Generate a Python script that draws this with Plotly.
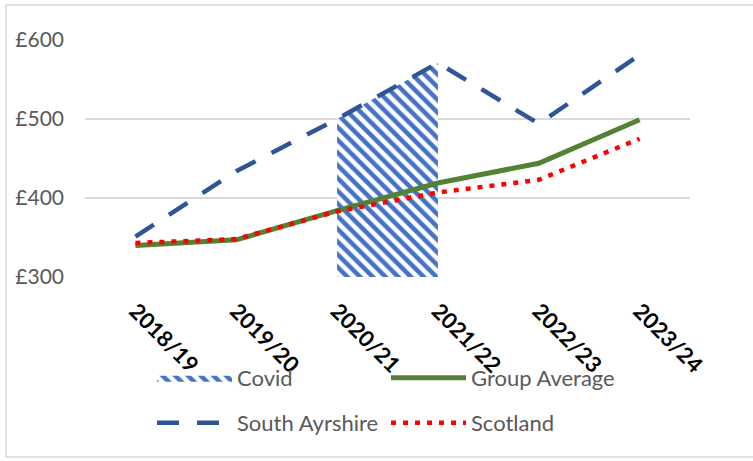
import plotly.graph_objects as go

years = ["2018/19", "2019/20", "2020/21", "2021/22", "2022/23", "2023/24"]
covid = [None, None, 500, 571, None, None]
group_average = [340, 347, 384, 419, 444, 499]
south_ayrshire = [351, 434, 500, 571, 494, 581]
scotland = [343, 348, 383, 407, 423, 475]
y_ticks = [300, 400, 500, 600]
y_tick_labels = ["£300", "£400", "£500", "£600"]

FONT = "Lato"
W, H = 753, 461
L, R, T, B = 85, 63, 40, 184
pw, ph = W - L - R, H - T - B

def px_x(x):
    return (x - L) / pw

def px_y(y):
    return (H - B - y) / ph

fig = go.Figure()
fig.add_trace(go.Scatter(
    x=years, y=covid, name="Covid", mode="lines", fill="tozeroy",
    line=dict(width=0, color="#4472C4"),
    fillcolor="white",
    fillpattern=dict(shape="\\", size=9, solidity=0.5, fgcolor="#4472C4",
                     bgcolor="white", fgopacity=1, fillmode="replace"),
    legend="legend", connectgaps=False,
))
fig.add_trace(go.Scatter(
    x=years, y=group_average, name="Group Average", mode="lines",
    line=dict(color="#548235", width=5), legend="legend",
))
fig.add_trace(go.Scatter(
    x=years, y=south_ayrshire, name="South Ayrshire", mode="lines",
    line=dict(color="#2F5597", width=4.5, dash="22px,18px"), legend="legend2",
))
fig.add_trace(go.Scatter(
    x=years, y=scotland, name="Scotland", mode="lines",
    line=dict(color="#FF0000", width=4.5, dash="5px,7px"), legend="legend2",
))

legend_common = dict(
    orientation="h", xanchor="left", yanchor="middle",
    font=dict(family=FONT, size=22, color="#595959"),
    itemwidth=75, entrywidth=144, bgcolor="rgba(0,0,0,0)",
    traceorder="normal",
)

fig.update_layout(
    width=W, height=H,
    margin=dict(l=L, r=R, t=T, b=B),
    paper_bgcolor="white", plot_bgcolor="white",
    showlegend=True,
    legend=dict(x=px_x(152), y=px_y(378), **legend_common),
    legend2=dict(x=px_x(152), y=px_y(423), **legend_common),
    xaxis=dict(
        type="category", range=[-0.5, 5.5], showgrid=False, zeroline=False,
        showline=False, ticks="", tickangle=45,
        tickfont=dict(family=FONT, size=22, color="black", weight="bold"),
        ticklabelstandoff=16,
    ),
    yaxis=dict(
        range=[300, 600], tickvals=y_ticks, ticktext=y_tick_labels,
        showgrid=True, gridcolor="#D9D9D9", gridwidth=1.5, zeroline=False,
        showline=False, ticks="",
        tickfont=dict(family=FONT, size=21, color="#595959"),
        ticklabelstandoff=20,
    ),
    shapes=[dict(
        type="rect", xref="paper", yref="paper",
        x0=px_x(6), x1=px_x(800), y0=px_y(457), y1=px_y(5),
        line=dict(color="#D9D9D9", width=1.5), fillcolor="rgba(0,0,0,0)", layer="below",
    )],
)

fig.write_html(
    "out.html",
    config={"displayModeBar": False},
    post_script="document.body.style.margin='0';document.body.style.overflow='hidden';",
)
